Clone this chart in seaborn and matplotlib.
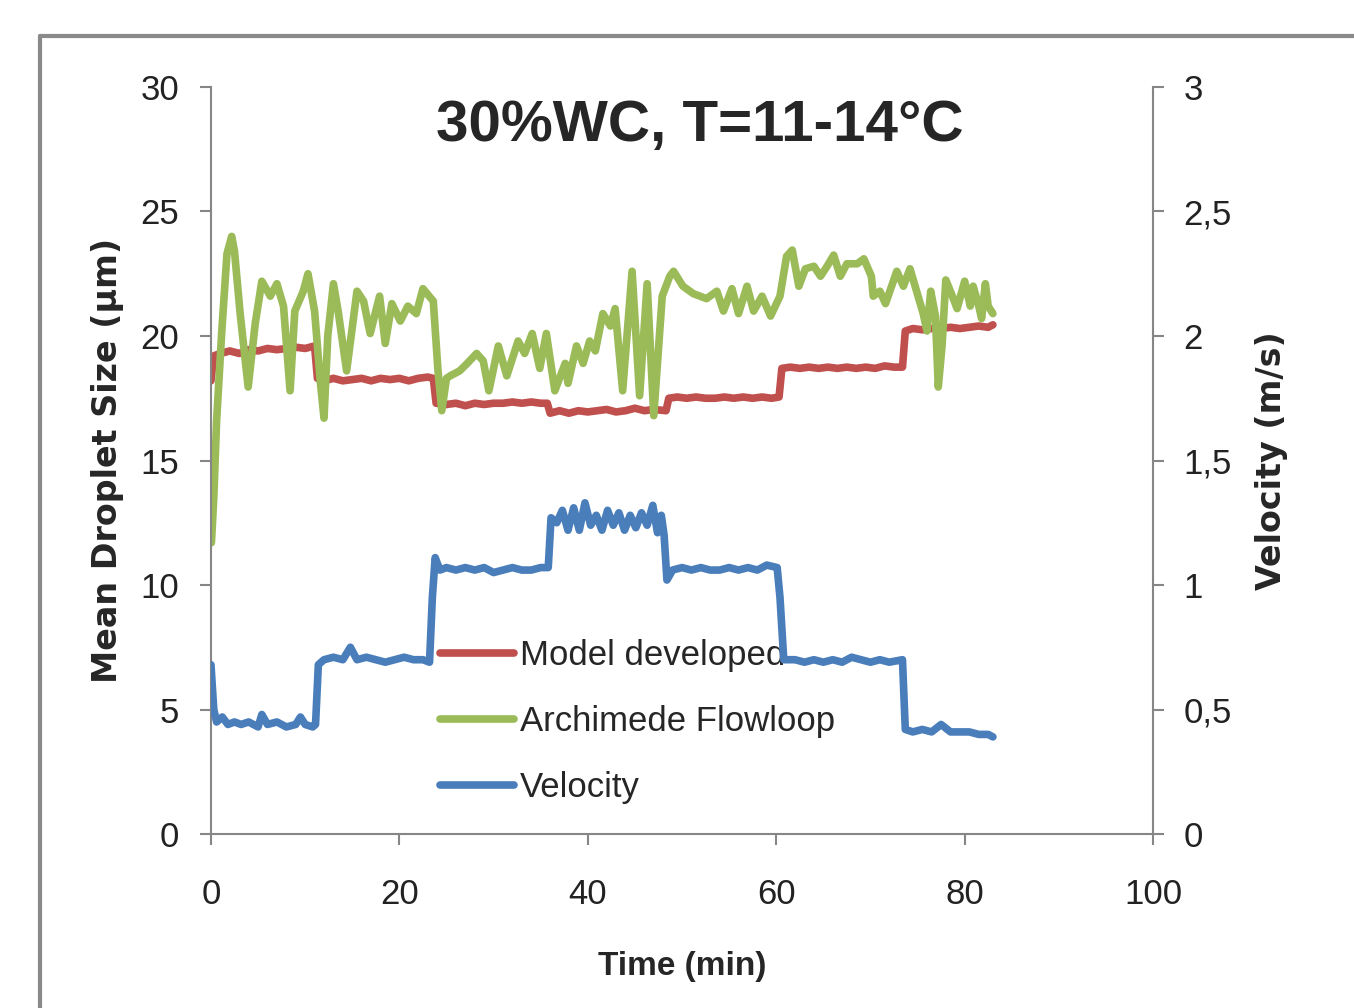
import numpy as np
import pandas as pd
import seaborn as sns
import matplotlib.pyplot as plt
from matplotlib.lines import Line2D

# Model developed (um)
red_t = [0, 0.3, 1, 2, 3, 4, 5, 6, 7, 8, 9, 10, 11, 11.3, 12, 13, 14, 15, 16, 17, 18, 19, 20, 21, 22, 23,
         23.6, 23.9, 25, 26, 27, 28, 29, 30, 31, 32, 33, 34, 35, 35.7, 36.0, 37, 38, 39, 40, 41, 42, 43, 44,
         45, 46, 47, 48.3, 48.6, 49.5, 50.5, 51.5, 52.5, 53.5, 54.5, 55.5, 56.5, 57.5, 58.5, 59.5, 60.3,
         60.6, 61.5, 62.5, 63.5, 64.5, 65.5, 66.5, 67.5, 68.5, 69.5, 70.5, 71.5, 72.5, 73.4, 73.7, 74.5,
         75.5, 76.5, 77.5, 78.5, 79.5, 80.5, 81.5, 82.5, 83]
red_v = [18.2, 19.2, 19.3, 19.4, 19.3, 19.45, 19.4, 19.5, 19.45, 19.5, 19.55, 19.5, 19.6, 18.3, 18.2, 18.3,
         18.2, 18.25, 18.3, 18.2, 18.3, 18.25, 18.3, 18.2, 18.3, 18.35, 18.3, 17.3, 17.25, 17.3, 17.2, 17.3,
         17.25, 17.3, 17.3, 17.35, 17.3, 17.35, 17.3, 17.3, 16.9, 17.0, 16.9, 17.0, 16.95, 17.0, 17.05,
         16.95, 17.0, 17.1, 17.0, 17.05, 17.0, 17.5, 17.55, 17.5, 17.55, 17.5, 17.5, 17.55, 17.5, 17.55,
         17.5, 17.55, 17.5, 17.55, 18.7, 18.75, 18.7, 18.75, 18.7, 18.75, 18.7, 18.75, 18.7, 18.75, 18.7,
         18.8, 18.75, 18.75, 20.2, 20.3, 20.25, 20.3, 20.3, 20.35, 20.3, 20.35, 20.4, 20.35, 20.45]

# Archimede Flowloop (um)
green_t = [0.05, 0.3, 0.6, 1.15, 1.7, 2.2, 2.5, 3.1, 3.95, 4.7, 5.4, 6.3, 7.0, 7.7, 8.4, 8.9, 9.8, 10.3,
           11.0, 11.6, 12.0, 12.4, 13.0, 13.5, 14.4, 15.5, 16.2, 16.9, 17.9, 18.5, 19.2, 20.1, 20.9, 21.8,
           22.5, 23.6, 24.1, 24.5, 25.0, 25.4, 26.4, 27.2, 28.2, 28.9, 29.5, 30.5, 31.4, 32.6, 33.3, 34.1,
           34.9, 35.6, 36.5, 37.6, 37.9, 38.8, 39.5, 40.2, 40.8, 41.6, 42.4, 42.9, 43.7, 44.7, 45.5, 46.3,
           47.0, 47.9, 48.7, 49.1, 50.1, 51.2, 52.6, 53.7, 54.4, 55.3, 56.0, 56.9, 57.6, 58.5, 59.4, 60.4,
           61.1, 61.7, 62.4, 63.1, 64.0, 64.7, 65.4, 66.1, 66.8, 67.5, 68.6, 69.3, 70.1, 70.3, 71.0, 71.6,
           72.8, 73.5, 74.2, 74.9, 75.6, 76.0, 76.4, 76.9, 77.2, 77.6, 78.0, 78.7, 79.2, 80.0, 80.6, 80.9,
           81.5, 81.8, 82.2, 82.5, 83.0]
green_v = [11.7, 13.5, 16.6, 20.2, 23.3, 24.0, 23.4, 20.9, 17.95, 20.5, 22.2, 21.6, 22.1, 21.2, 17.8, 21.0,
           21.8, 22.5, 21.0, 18.2, 16.7, 20.0, 22.1, 21.0, 18.6, 21.8, 21.4, 20.1, 21.6, 19.7, 21.3, 20.6,
           21.2, 20.9, 21.9, 21.4, 18.6, 17.0, 18.3, 18.4, 18.6, 18.9, 19.3, 19.0, 17.8, 19.6, 18.4, 19.8,
           19.3, 20.1, 18.7, 20.1, 17.8, 18.9, 18.1, 19.6, 18.9, 19.8, 19.4, 20.9, 20.4, 21.1, 17.8, 22.6,
           17.6, 22.1, 16.8, 21.6, 22.4, 22.6, 22.0, 21.7, 21.5, 21.8, 21.0, 21.9, 20.9, 22.0, 21.0, 21.6,
           20.8, 21.6, 23.2, 23.45, 22.0, 22.7, 22.8, 22.4, 22.8, 23.25, 22.4, 22.9, 22.9, 23.1, 22.4, 21.6,
           21.8, 21.3, 22.6, 22.0, 22.7, 21.8, 20.9, 20.2, 21.8, 20.8, 17.95, 19.6, 22.25, 21.6, 21.1, 22.2,
           21.2, 22.0, 21.2, 20.7, 22.1, 21.2, 20.9]

# Velocity (m/s)
blue_t = [0, 0.3, 0.6, 1.2, 1.8, 2.5, 3.2, 4, 5, 5.4, 6, 7, 8, 9, 9.5, 10, 10.8, 11.1, 11.4, 12, 13, 14,
          14.8, 15.5, 16.5, 17.5, 18.5, 19.5, 20.5, 21.5, 22.5, 23.2, 23.5, 23.8, 24.3, 25, 26, 27, 28, 29,
          30, 31, 32, 33, 34, 35, 35.8, 36.1, 36.7, 37.3, 37.9, 38.5, 39.1, 39.7, 40.3, 40.9, 41.5, 42.1,
          42.7, 43.3, 43.9, 44.5, 45.1, 45.7, 46.3, 46.9, 47.4, 47.8, 48.1, 48.4, 49, 50, 51, 52, 53, 54,
          55, 56, 57, 58, 59, 60.1, 60.4, 60.8, 62, 63, 64, 65, 66, 67, 68, 69, 70, 71, 72, 73.4, 73.7,
          74.5, 75.5, 76.5, 77.5, 78.5, 79.5, 80.5, 81.5, 82.5, 83]
blue_v = [0.68, 0.50, 0.45, 0.47, 0.44, 0.45, 0.44, 0.45, 0.43, 0.48, 0.44, 0.45, 0.43, 0.44, 0.47, 0.44,
          0.43, 0.44, 0.68, 0.70, 0.71, 0.70, 0.75, 0.70, 0.71, 0.70, 0.69, 0.70, 0.71, 0.70, 0.70, 0.69,
          0.95, 1.11, 1.06, 1.07, 1.06, 1.07, 1.06, 1.07, 1.05, 1.06, 1.07, 1.06, 1.06, 1.07, 1.07, 1.27,
          1.25, 1.30, 1.22, 1.31, 1.22, 1.33, 1.24, 1.28, 1.22, 1.30, 1.24, 1.29, 1.22, 1.28, 1.23, 1.29,
          1.24, 1.32, 1.21, 1.28, 1.20, 1.02, 1.06, 1.07, 1.06, 1.07, 1.06, 1.06, 1.07, 1.06, 1.07, 1.06,
          1.08, 1.07, 0.95, 0.70, 0.70, 0.69, 0.70, 0.69, 0.70, 0.69, 0.71, 0.70, 0.69, 0.70, 0.69, 0.70,
          0.42, 0.41, 0.42, 0.41, 0.44, 0.41, 0.41, 0.41, 0.40, 0.40, 0.39]

labels = ["Model developed", "Archimede Flowloop", "Velocity"]
colors = ["#C0504D", "#9BBB59", "#4A7EBB"]
right_ticks = [0, 0.5, 1, 1.5, 2, 2.5, 3]
right_ticklabels = ["0", "0,5", "1", "1,5", "2", "2,5", "3"]

sns.set_style("white")
plt.rcParams['font.family'] = ["Liberation Sans", "DejaVu Sans"]

fig = plt.figure(figsize=(13.54, 10.08), dpi=100)
ax = fig.add_axes([0.1558, 0.1726, 0.6958, 0.7411])
ax2 = ax.twinx()

lw = 5.5
sns.lineplot(x=red_t, y=red_v, ax=ax, color=colors[0], lw=lw, estimator=None, sort=False)
sns.lineplot(x=green_t, y=green_v, ax=ax, color=colors[1], lw=lw, estimator=None, sort=False)
sns.lineplot(x=blue_t, y=blue_v, ax=ax2, color=colors[2], lw=lw, estimator=None, sort=False)

ax.set_xlim(0, 100)
ax.set_ylim(0, 30)
ax2.set_ylim(0, 3)
ax.set_xticks([0, 20, 40, 60, 80, 100])
ax.set_yticks([0, 5, 10, 15, 20, 25, 30])
ax2.set_yticks(right_ticks)
ax2.set_yticklabels(right_ticklabels)

gray = "#868686"
for a in (ax, ax2):
    for s in a.spines.values():
        s.set_color(gray)
        s.set_linewidth(1.5)
    a.spines['top'].set_visible(False)
ax.spines['right'].set_visible(False)
ax2.spines['left'].set_visible(False)
ax2.spines['bottom'].set_visible(False)

ax.tick_params(axis='y', direction='out', length=8, width=1.5, color=gray,
               labelsize=25, labelcolor="#222222", pad=15, left=True)
ax.tick_params(axis='x', direction='out', length=8, width=1.5, color=gray,
               labelsize=25, labelcolor="#222222", pad=24, bottom=True)
ax2.tick_params(axis='y', direction='out', length=8, width=1.5, color=gray,
                labelsize=25, labelcolor="#222222", pad=14, right=True)

ax.set_xlabel("Time (min)", fontsize=24, fontweight='bold')
ax.xaxis.set_label_coords(0.5, -0.156)
ax.set_ylabel("Mean Droplet Size (µm)", fontsize=24, fontweight='bold', family=["DejaVu Sans"])
ax.yaxis.set_label_coords(-0.092, 0.5)
ax2.set_ylabel("Velocity (m/s)", fontsize=24, fontweight='bold', family=["DejaVu Sans"])
ax2.yaxis.set_label_coords(1.108, 0.5)

ax.text(0.519, 0.948, "30%WC, T=11-14°C", transform=ax.transAxes, ha='center', va='center',
        fontsize=42, fontweight='bold')

handles = [Line2D([0], [0], color=c, lw=lw) for c in colors]
ax.legend(handles, labels, loc='upper left', bbox_to_anchor=(0.228, 0.279), frameon=False,
          fontsize=25, handlelength=2.15, handletextpad=0.15, labelspacing=0.95, borderaxespad=0)

# outer chart border
fig.add_artist(Line2D([0.0295, 0.0295], [0, 0.9645], transform=fig.transFigure, color="#8a8a8a", lw=3))
fig.add_artist(Line2D([0.0295, 1.0], [0.9645, 0.9645], transform=fig.transFigure, color="#8a8a8a", lw=3))

fig.savefig("out.png", dpi=100)
